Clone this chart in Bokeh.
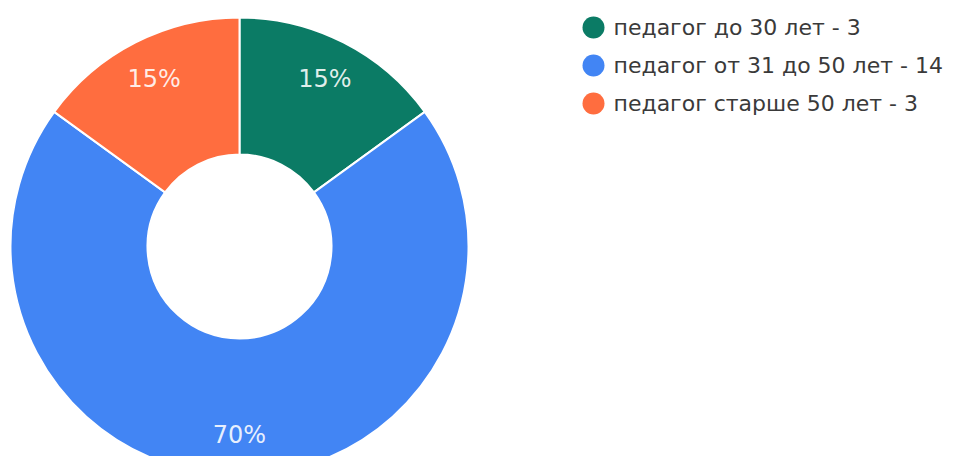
import math
from bokeh.plotting import figure
from bokeh.models import Range1d, ColumnDataSource
from bokeh.core.properties import value
from bokeh.embed import file_html
from bokeh.resources import INLINE

# ---- data ----
categories = ["педагог до 30 лет", "педагог от 31 до 50 лет", "педагог старше 50 лет"]
counts = [3, 14, 3]
colors = ["#0b7b65", "#4285f4", "#ff6d3f"]
pct_labels = ["15%", "70%", "15%"]

# ---- layout (pixels; 1 data unit = 1 px) ----
W, H = 957, 456
cx, cy = 239, H - 246
r_out, r_in = 229, 92
r_lab = 188

total = sum(counts)
starts, ends, lx, ly = [], [], [], []
cum = 0
for c in counts:
    a0 = math.pi / 2 - 2 * math.pi * cum / total
    cum += c
    a1 = math.pi / 2 - 2 * math.pi * cum / total
    starts.append(a0)
    ends.append(a1)
    mid = (a0 + a1) / 2
    lx.append(cx + r_lab * math.cos(mid))
    ly.append(cy + r_lab * math.sin(mid))

src = ColumnDataSource(dict(start=starts, end=ends, color=colors,
                            lx=lx, ly=ly, lab=pct_labels))

p = figure(width=W, height=H, output_backend="svg", toolbar_location=None,
           x_range=Range1d(0, W), y_range=Range1d(0, H), min_border=0)
p.axis.visible = False
p.grid.visible = False
p.outline_line_color = None
p.background_fill_color = "white"
p.border_fill_color = "white"

p.annular_wedge(x=cx, y=cy, inner_radius=r_in, outer_radius=r_out,
                inner_radius_units="screen", outer_radius_units="screen",
                start_angle="start", end_angle="end", direction="clock",
                fill_color="color", line_color="white", line_width=2, source=src)

p.text(x="lx", y="ly", text="lab", source=src, text_color="white", text_alpha=0.88,
       text_font=value("DejaVu Sans"), text_font_size="24px",
       text_align="center", text_baseline="middle")

# legend
leg_x = 593
leg_y0 = H - 27
leg_dy = 38
leg_ys = [leg_y0 - i * leg_dy for i in range(len(categories))]
leg_txt = [f"{cat} - {n}" for cat, n in zip(categories, counts)]
lsrc = ColumnDataSource(dict(x=[leg_x] * len(categories), y=leg_ys, color=colors,
                             tx=[leg_x + 20] * len(categories), t=leg_txt))
p.scatter(x="x", y="y", size=22, marker="circle", fill_color="color",
          line_color=None, source=lsrc)
p.text(x="tx", y="y", text="t", source=lsrc, text_color="#3a3a3a",
       text_font=value("DejaVu Sans"), text_font_size="22px",
       text_align="left", text_baseline="middle")

open("out.html", "w").write(file_html(p, INLINE))
